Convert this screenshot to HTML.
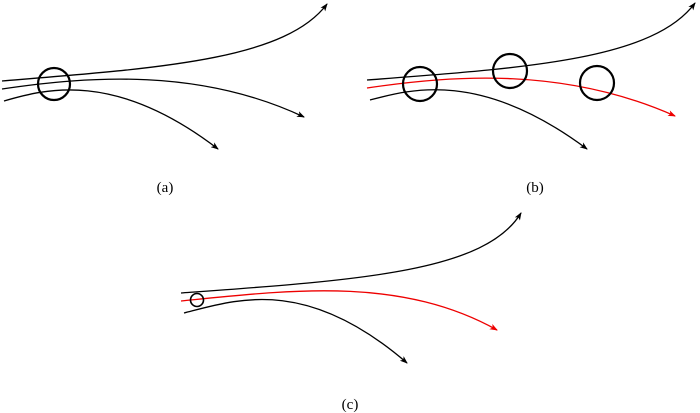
<!DOCTYPE html>
<html><head><meta charset="utf-8"><style>
html,body{margin:0;padding:0;background:#fff;}
svg{display:block;}
text{font-family:"Liberation Serif",serif;font-size:15px;}
</style></head><body>
<svg width="700" height="413" viewBox="0 0 700 413" xmlns="http://www.w3.org/2000/svg">
<defs>
<marker id="ak" markerWidth="8" markerHeight="6" refX="7" refY="3" orient="auto" markerUnits="userSpaceOnUse"><path d="M0,0 L8,3 L0,6 L2,3 Z" fill="#000"/></marker>
<marker id="ar" markerWidth="8" markerHeight="6" refX="7" refY="3" orient="auto" markerUnits="userSpaceOnUse"><path d="M0,0 L8,3 L0,6 L2,3 Z" fill="#e00"/></marker>
</defs>
<g fill="none" stroke-width="1.3">
<!-- (a) -->
<path d="M2,81 C160,68 285,60 327,4" stroke="#000" marker-end="url(#ak)"/>
<path d="M2,89 C90,76 200,68 304,117" stroke="#000" marker-end="url(#ak)"/>
<path d="M4,101 C45,89 115,70 218,149" stroke="#000" marker-end="url(#ak)"/>
<circle cx="54" cy="84" r="16" stroke="#000" stroke-width="2.2"/>
<!-- (b) -->
<path d="M367,80 C525,68 653,60 695,3" stroke="#000" marker-end="url(#ak)"/>
<path d="M367,88 C455,75 565,67 675,116" stroke="#e00" marker-end="url(#ar)"/>
<path d="M370,100 C411,89 481,70 587,149" stroke="#000" marker-end="url(#ak)"/>
<circle cx="420" cy="84" r="17" stroke="#000" stroke-width="2.2"/>
<circle cx="510" cy="71" r="17" stroke="#000" stroke-width="2.2"/>
<circle cx="597" cy="83" r="17" stroke="#000" stroke-width="2.2"/>
<!-- (c) -->
<path d="M181,293 C360,280 485,272 521,213" stroke="#000" marker-end="url(#ak)"/>
<path d="M181,301 C290,290 400,276 497,330" stroke="#e00" marker-end="url(#ar)"/>
<path d="M184,313 C235,300 305,275 407,363" stroke="#000" marker-end="url(#ak)"/>
<circle cx="197" cy="300" r="6.5" stroke="#000" stroke-width="1.6"/>
</g>
<text x="165" y="192" text-anchor="middle">(a)</text>
<text x="535" y="192" text-anchor="middle">(b)</text>
<text x="350" y="409" text-anchor="middle">(c)</text>
</svg>
</body></html>
